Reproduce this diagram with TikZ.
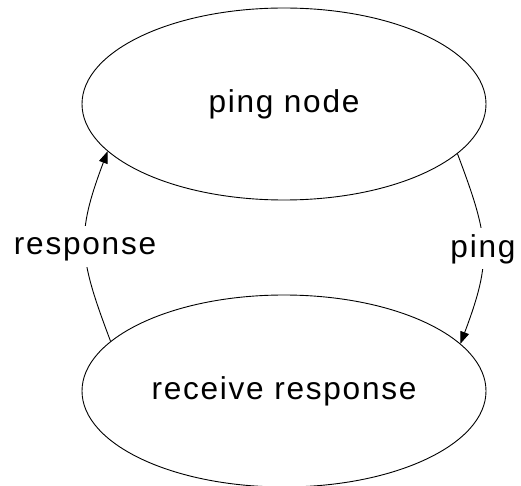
\documentclass[tikz,border=0pt]{standalone}
\usepackage{fontspec}
\setmainfont{Liberation Sans}[LetterSpace=5.5]
\usetikzlibrary{shapes.geometric,arrows.meta}
\tikzset{
  state/.style={draw, ellipse, line width=0.9pt, inner sep=0pt,
    minimum width=404pt, minimum height=192pt,
    font=\fontsize{31.6}{36}\selectfont},
  edge/.style={line width=0.9pt, -{Triangle[length=12pt,width=9pt]}},
  elabel/.style={fill=white, inner sep=3pt, text height=26pt, text depth=9pt,
    font=\fontsize{31.6}{36}\selectfont}
}
\begin{document}
\begin{tikzpicture}[x=1pt, y=-1pt]
  \useasboundingbox (0,0) rectangle (521,486);
  \node[state] (ping) at (284,104) {ping node};
  \node[state] (recv) at (284,391) {receive response};
  % ping: down the right side
  \draw[edge] (ping.344.8) .. controls +(32,85) and +(32,-85) .. (recv.15.2)
    node[midway, elabel] (lping) {ping};
  % response: back up the left side
  \draw[edge] (recv.164.8) .. controls +(-32,-85) and +(-32,85) .. (ping.195.2)
    node[midway, elabel] (lresp) {response};
\end{tikzpicture}
\end{document}
